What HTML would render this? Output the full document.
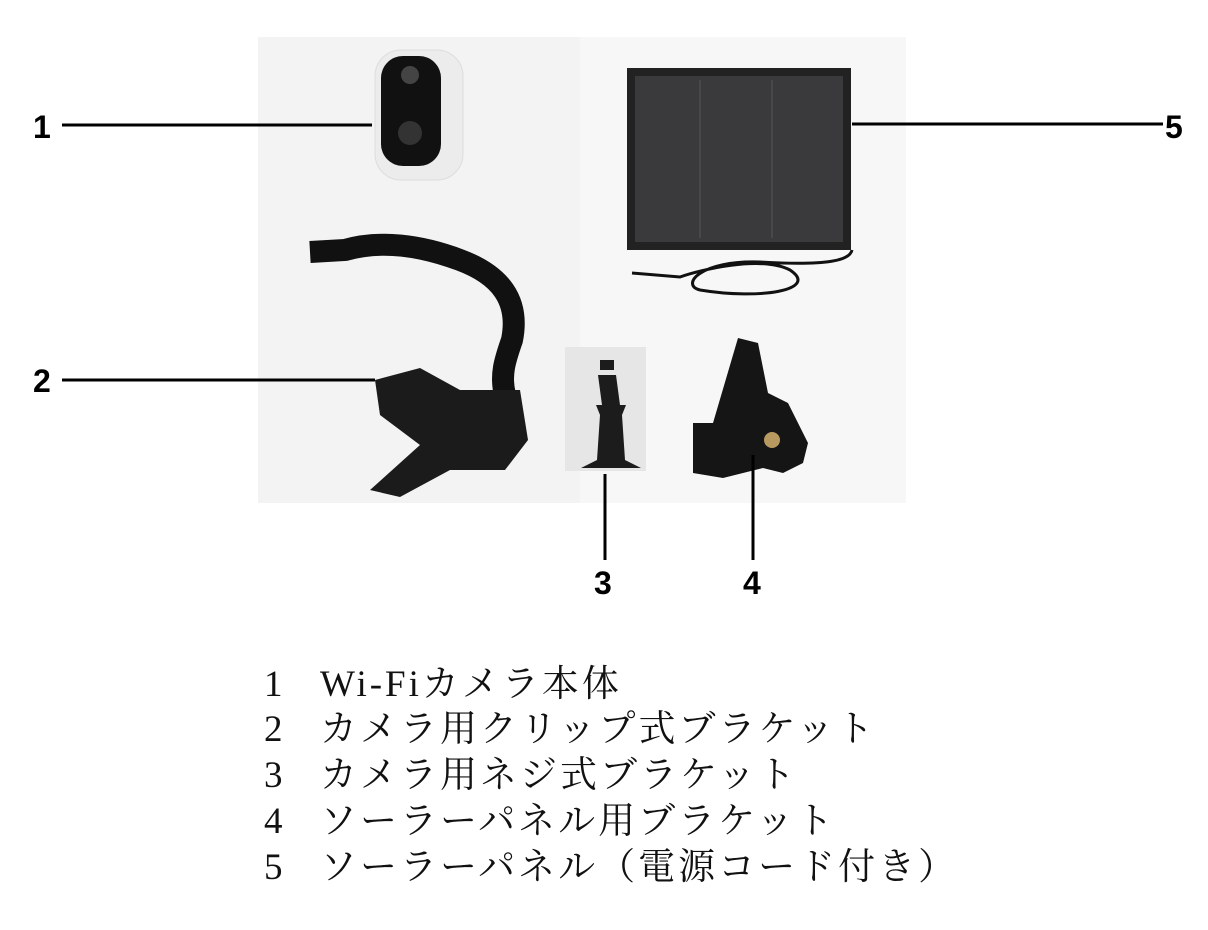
<!DOCTYPE html>
<html><head><meta charset="utf-8"><style>
html,body{margin:0;padding:0;background:#fff;}
body{width:1208px;height:930px;position:relative;overflow:hidden;}
svg{position:absolute;left:0;top:0;}
.n,.t{position:absolute;font-family:"Liberation Serif","Noto Serif CJK SC","Noto Sans CJK JP",serif;font-size:37px;color:#111;line-height:46px;white-space:pre;}
.n{left:264px;}
.t{left:320px;letter-spacing:3px;}
</style></head><body>
<svg width="1208" height="930" viewBox="0 0 1208 930">
<rect x="258" y="37" width="648" height="466" fill="#f3f3f4"/>
<rect x="580" y="37" width="326" height="466" fill="#f7f7f7"/>
<!-- camera -->
<rect x="375" y="50" width="88" height="130" rx="26" fill="#ececec" stroke="#ddd"/>
<rect x="381" y="56" width="60" height="110" rx="22" fill="#111"/>
<circle cx="410" cy="75" r="9" fill="#444"/>
<circle cx="410" cy="133" r="12" fill="#333"/>
<!-- solar panel -->
<rect x="627" y="68" width="224" height="182" fill="#222"/>
<rect x="635" y="76" width="208" height="166" fill="#3a3a3c"/>
<line x1="700" y1="80" x2="700" y2="238" stroke="#555"/>
<line x1="772" y1="80" x2="772" y2="238" stroke="#555"/>
<path d="M632 273 L680 277 C700 270 760 255 790 270 C820 290 760 300 700 290 C680 285 700 260 760 262 C830 266 850 260 852 250" fill="none" stroke="#111" stroke-width="3"/>
<!-- gooseneck clamp -->
<path d="M310 252 L345 250 C380 240 420 245 460 260 C500 275 520 300 512 340 C505 360 500 375 505 395" fill="none" stroke="#111" stroke-width="22"/>
<polygon points="375,380 420,368 460,390 520,390 528,440 505,470 450,470 400,497 370,490 420,445 380,415" fill="#1b1b1b"/>
<!-- mount 3 -->
<rect x="565" y="347" width="81" height="124" fill="#e6e6e6"/>
<path d="M600 360 h14 v10 h-14z M598 375 h18 l4 30 h6 l-4 10 l3 45 l16 8 h-60 l16 -8 l3 -45 l-4 -10 h6z" fill="#1c1c1c"/>
<!-- clip 4 -->
<path d="M738 338 l20 5 l10 50 l20 10 l20 40 l-5 20 l-20 10 l-20 -5 l-40 10 l-30 -5 l0 -50 l20 0 z" fill="#151515"/>
<circle cx="772" cy="440" r="8" fill="#b89a60"/>
<!-- leader lines -->
<g stroke="#000" stroke-width="3">
<line x1="62" y1="125" x2="372" y2="125"/>
<line x1="62" y1="380" x2="375" y2="380"/>
<line x1="852" y1="124" x2="1163" y2="124"/>
<line x1="605" y1="474" x2="605" y2="560"/>
<line x1="753" y1="455" x2="753" y2="560"/>
</g>
<g font-family="Liberation Sans, sans-serif" font-size="32" font-weight="bold" fill="#000">
<text x="33" y="138">1</text>
<text x="33" y="392">2</text>
<text x="1165" y="138">5</text>
<text x="594" y="594">3</text>
<text x="743" y="594">4</text>
</g>
</svg>
<div class="n" style="top:662px">1</div><div class="t" style="top:662px">Wi-Fiカメラ本体</div>
<div class="n" style="top:707px">2</div><div class="t" style="top:707px">カメラ用クリップ式ブラケット</div>
<div class="n" style="top:753px">3</div><div class="t" style="top:753px">カメラ用ネジ式ブラケット</div>
<div class="n" style="top:799px">4</div><div class="t" style="top:799px">ソーラーパネル用ブラケット</div>
<div class="n" style="top:845px">5</div><div class="t" style="top:845px">ソーラーパネル（電源コード付き）</div>
</body></html>
